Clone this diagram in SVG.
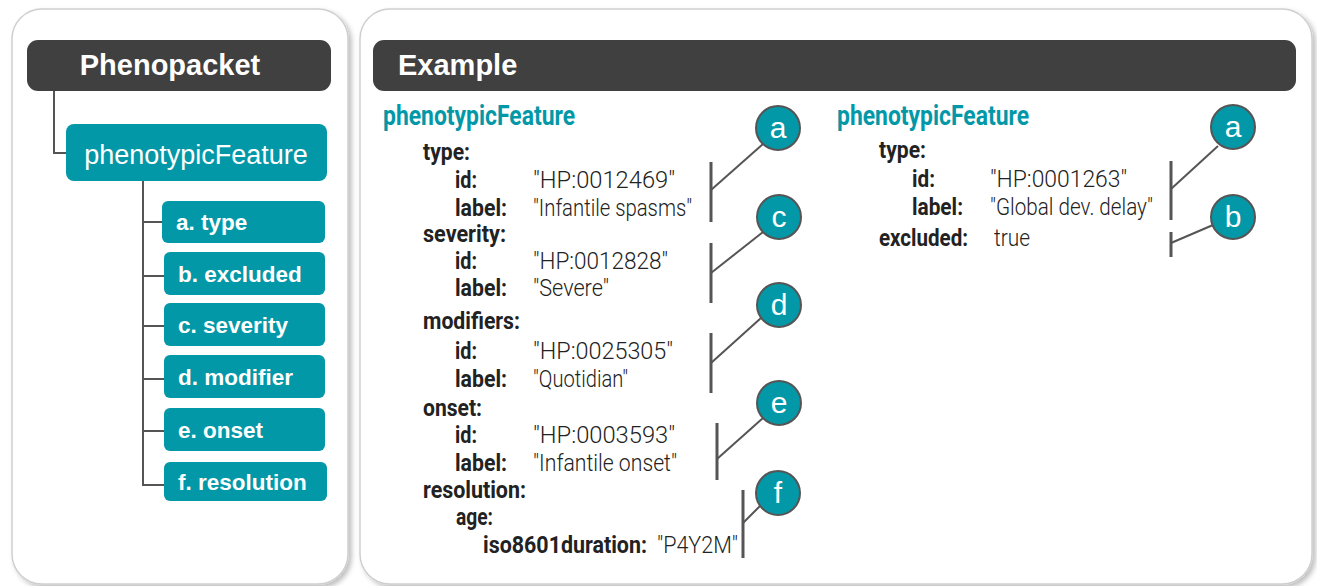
<svg xmlns="http://www.w3.org/2000/svg" width="1317" height="586" viewBox="0 0 1317 586">
<defs>
<filter id="sh" x="-5%" y="-5%" width="110%" height="110%">
<feDropShadow dx="3" dy="3" stdDeviation="2.5" flood-color="#000" flood-opacity="0.25"/>
</filter>
<style>
.panel{fill:#fff;stroke:#cfcfcf;stroke-width:1.5;filter:url(#sh)}
.hdr{fill:#404040}
.hdrt{font-family:"Liberation Sans",Arial,sans-serif;font-weight:bold;font-size:29px;fill:#fff}
.teal{fill:#0398a7}
.pf{font-family:"Liberation Sans",Arial,sans-serif;font-size:27px;fill:#fff}
.bt{font-family:"Liberation Sans",Arial,sans-serif;font-weight:bold;font-size:22.5px;fill:#fff}
.tree{fill:none;stroke:#555;stroke-width:2}
.k{font-family:Roboto,"Liberation Sans",sans-serif;font-weight:bold;font-size:24.5px;fill:#222}
.v{font-family:Roboto,"Liberation Sans",sans-serif;font-weight:300;font-size:24.5px;fill:#222}
.ttl{font-family:Roboto,"Liberation Sans",sans-serif;font-weight:bold;font-size:27px;fill:#0398a7}
.br{fill:none;stroke:#555;stroke-width:3}
.dg{fill:none;stroke:#555;stroke-width:2}
.cc{fill:#0398a7;stroke:#555;stroke-width:2}
.cl{font-family:"Liberation Sans",Arial,sans-serif;font-size:30px;fill:#fff;text-anchor:middle}
</style>
</defs>
<rect width="1317" height="586" fill="#fff"/>

<g id="panel-left">
<rect class="panel" x="12" y="9" width="336" height="575" rx="30"/>
</g>
<g id="panel-right">
<rect class="panel" x="360" y="9" width="952" height="575" rx="30"/>
</g>

<g id="connectors">
<polyline class="tree" points="54,91 54,153 66,153"/>
<line class="tree" x1="143" y1="181" x2="143" y2="486"/>
<line class="tree" x1="142" y1="222" x2="162" y2="222"/>
<line class="tree" x1="142" y1="276" x2="164" y2="276"/>
<line class="tree" x1="142" y1="326" x2="164" y2="326"/>
<line class="tree" x1="142" y1="379" x2="164" y2="379"/>
<line class="tree" x1="142" y1="431" x2="164" y2="431"/>
<line class="tree" x1="142" y1="485" x2="164" y2="485"/>
<line class="br" x1="711" y1="162" x2="711" y2="222"/>
<line class="dg" x1="711" y1="190" x2="763" y2="144"/>
<line class="br" x1="711" y1="243" x2="711" y2="303"/>
<line class="dg" x1="711" y1="273" x2="763" y2="232"/>
<line class="br" x1="711" y1="333" x2="711" y2="393"/>
<line class="dg" x1="711" y1="363" x2="761" y2="318"/>
<line class="br" x1="717" y1="423" x2="717" y2="480"/>
<line class="dg" x1="717" y1="459" x2="763" y2="418"/>
<line class="br" x1="743" y1="490" x2="743" y2="558"/>
<line class="dg" x1="743" y1="523" x2="760" y2="506"/>
<line class="br" x1="1171" y1="161" x2="1171" y2="220"/>
<line class="dg" x1="1171" y1="189" x2="1218" y2="146"/>
<line class="br" x1="1171" y1="232" x2="1171" y2="257"/>
<line class="dg" x1="1171" y1="243" x2="1213" y2="225"/>
</g>

<g id="node-phenopacket">
<rect class="hdr" x="27" y="40" width="304" height="51" rx="11"/>
<text class="hdrt" x="170" y="75" text-anchor="middle">Phenopacket</text>
</g>
<g id="node-phenotypicFeature">
<rect class="teal" x="66" y="124" width="261" height="57" rx="8"/>
<text class="pf" x="196" y="164" text-anchor="middle">phenotypicFeature</text>
</g>
<g id="node-type">
<rect class="teal" x="162" y="201" width="163" height="42" rx="6"/>
<text class="bt" x="176" y="230">a. type</text>
</g>
<g id="node-excluded">
<rect class="teal" x="164" y="252" width="161" height="43" rx="6"/>
<text class="bt" x="178" y="282">b. excluded</text>
</g>
<g id="node-severity">
<rect class="teal" x="164" y="303" width="161" height="43" rx="6"/>
<text class="bt" x="178" y="333">c. severity</text>
</g>
<g id="node-modifier">
<rect class="teal" x="164" y="355" width="161" height="43" rx="6"/>
<text class="bt" x="178" y="385">d. modifier</text>
</g>
<g id="node-onset">
<rect class="teal" x="164" y="408" width="161" height="43" rx="6"/>
<text class="bt" x="178" y="438">e. onset</text>
</g>
<g id="node-resolution">
<rect class="teal" x="164" y="462" width="163" height="39" rx="6"/>
<text class="bt" x="178" y="490">f. resolution</text>
</g>

<g id="node-example">
<rect class="hdr" x="373" y="40" width="923" height="51" rx="11"/>
<text class="hdrt" x="398" y="75">Example</text>
</g>

<g id="example-1">
<text class="ttl" x="383" y="125" textLength="192" lengthAdjust="spacingAndGlyphs">phenotypicFeature</text>
<text class="k" x="423" y="160" textLength="47" lengthAdjust="spacingAndGlyphs">type:</text>
<text class="k" x="455" y="188" textLength="22" lengthAdjust="spacingAndGlyphs">id:</text>
<text class="v" x="533" y="188" textLength="142" lengthAdjust="spacingAndGlyphs">"HP:0012469"</text>
<text class="k" x="455" y="216" textLength="52" lengthAdjust="spacingAndGlyphs">label:</text>
<text class="v" x="533" y="216" textLength="159" lengthAdjust="spacingAndGlyphs">"Infantile spasms"</text>
<text class="k" x="423" y="242" textLength="83" lengthAdjust="spacingAndGlyphs">severity:</text>
<text class="k" x="455" y="269" textLength="22" lengthAdjust="spacingAndGlyphs">id:</text>
<text class="v" x="533" y="269" textLength="135" lengthAdjust="spacingAndGlyphs">"HP:0012828"</text>
<text class="k" x="455" y="296" textLength="52" lengthAdjust="spacingAndGlyphs">label:</text>
<text class="v" x="533" y="296" textLength="76" lengthAdjust="spacingAndGlyphs">"Severe"</text>
<text class="k" x="423" y="329" textLength="97" lengthAdjust="spacingAndGlyphs">modifiers:</text>
<text class="k" x="455" y="359" textLength="22" lengthAdjust="spacingAndGlyphs">id:</text>
<text class="v" x="533" y="359" textLength="140" lengthAdjust="spacingAndGlyphs">"HP:0025305"</text>
<text class="k" x="455" y="387" textLength="52" lengthAdjust="spacingAndGlyphs">label:</text>
<text class="v" x="533" y="387" textLength="95" lengthAdjust="spacingAndGlyphs">"Quotidian"</text>
<text class="k" x="423" y="416" textLength="59" lengthAdjust="spacingAndGlyphs">onset:</text>
<text class="k" x="455" y="443" textLength="22" lengthAdjust="spacingAndGlyphs">id:</text>
<text class="v" x="533" y="443" textLength="142" lengthAdjust="spacingAndGlyphs">"HP:0003593"</text>
<text class="k" x="455" y="471" textLength="52" lengthAdjust="spacingAndGlyphs">label:</text>
<text class="v" x="533" y="471" textLength="144" lengthAdjust="spacingAndGlyphs">"Infantile onset"</text>
<text class="k" x="423" y="498" textLength="103" lengthAdjust="spacingAndGlyphs">resolution:</text>
<text class="k" x="456" y="525" textLength="37" lengthAdjust="spacingAndGlyphs">age:</text>
<text class="k" x="483" y="553" textLength="164" lengthAdjust="spacingAndGlyphs">iso8601duration:</text>
<text class="v" x="657" y="553" textLength="81" lengthAdjust="spacingAndGlyphs">"P4Y2M"</text>
</g>

<g id="example-2">
<text class="ttl" x="837" y="125" textLength="192" lengthAdjust="spacingAndGlyphs">phenotypicFeature</text>
<text class="k" x="879" y="158" textLength="47" lengthAdjust="spacingAndGlyphs">type:</text>
<text class="k" x="912" y="187" textLength="23" lengthAdjust="spacingAndGlyphs">id:</text>
<text class="v" x="990" y="187" textLength="137" lengthAdjust="spacingAndGlyphs">"HP:0001263"</text>
<text class="k" x="912" y="215" textLength="51" lengthAdjust="spacingAndGlyphs">label:</text>
<text class="v" x="990" y="215" textLength="163" lengthAdjust="spacingAndGlyphs">"Global dev. delay"</text>
<text class="k" x="879" y="246" textLength="89" lengthAdjust="spacingAndGlyphs">excluded:</text>
<text class="v" x="994" y="246" textLength="36" lengthAdjust="spacingAndGlyphs">true</text>
</g>

<g id="badge-a1"><circle class="cc" cx="778" cy="128" r="22"/><text class="cl" x="778" y="138">a</text></g>
<g id="badge-c"><circle class="cc" cx="779" cy="217" r="22"/><text class="cl" x="779" y="227">c</text></g>
<g id="badge-d"><circle class="cc" cx="779" cy="305" r="22"/><text class="cl" x="779" y="315">d</text></g>
<g id="badge-e"><circle class="cc" cx="779" cy="403" r="22"/><text class="cl" x="779" y="413">e</text></g>
<g id="badge-f"><circle class="cc" cx="778" cy="493" r="22"/><text class="cl" x="778" y="503">f</text></g>
<g id="badge-a2"><circle class="cc" cx="1233" cy="127" r="22"/><text class="cl" x="1233" y="137">a</text></g>
<g id="badge-b"><circle class="cc" cx="1233" cy="217" r="22"/><text class="cl" x="1233" y="227">b</text></g>
</svg>
